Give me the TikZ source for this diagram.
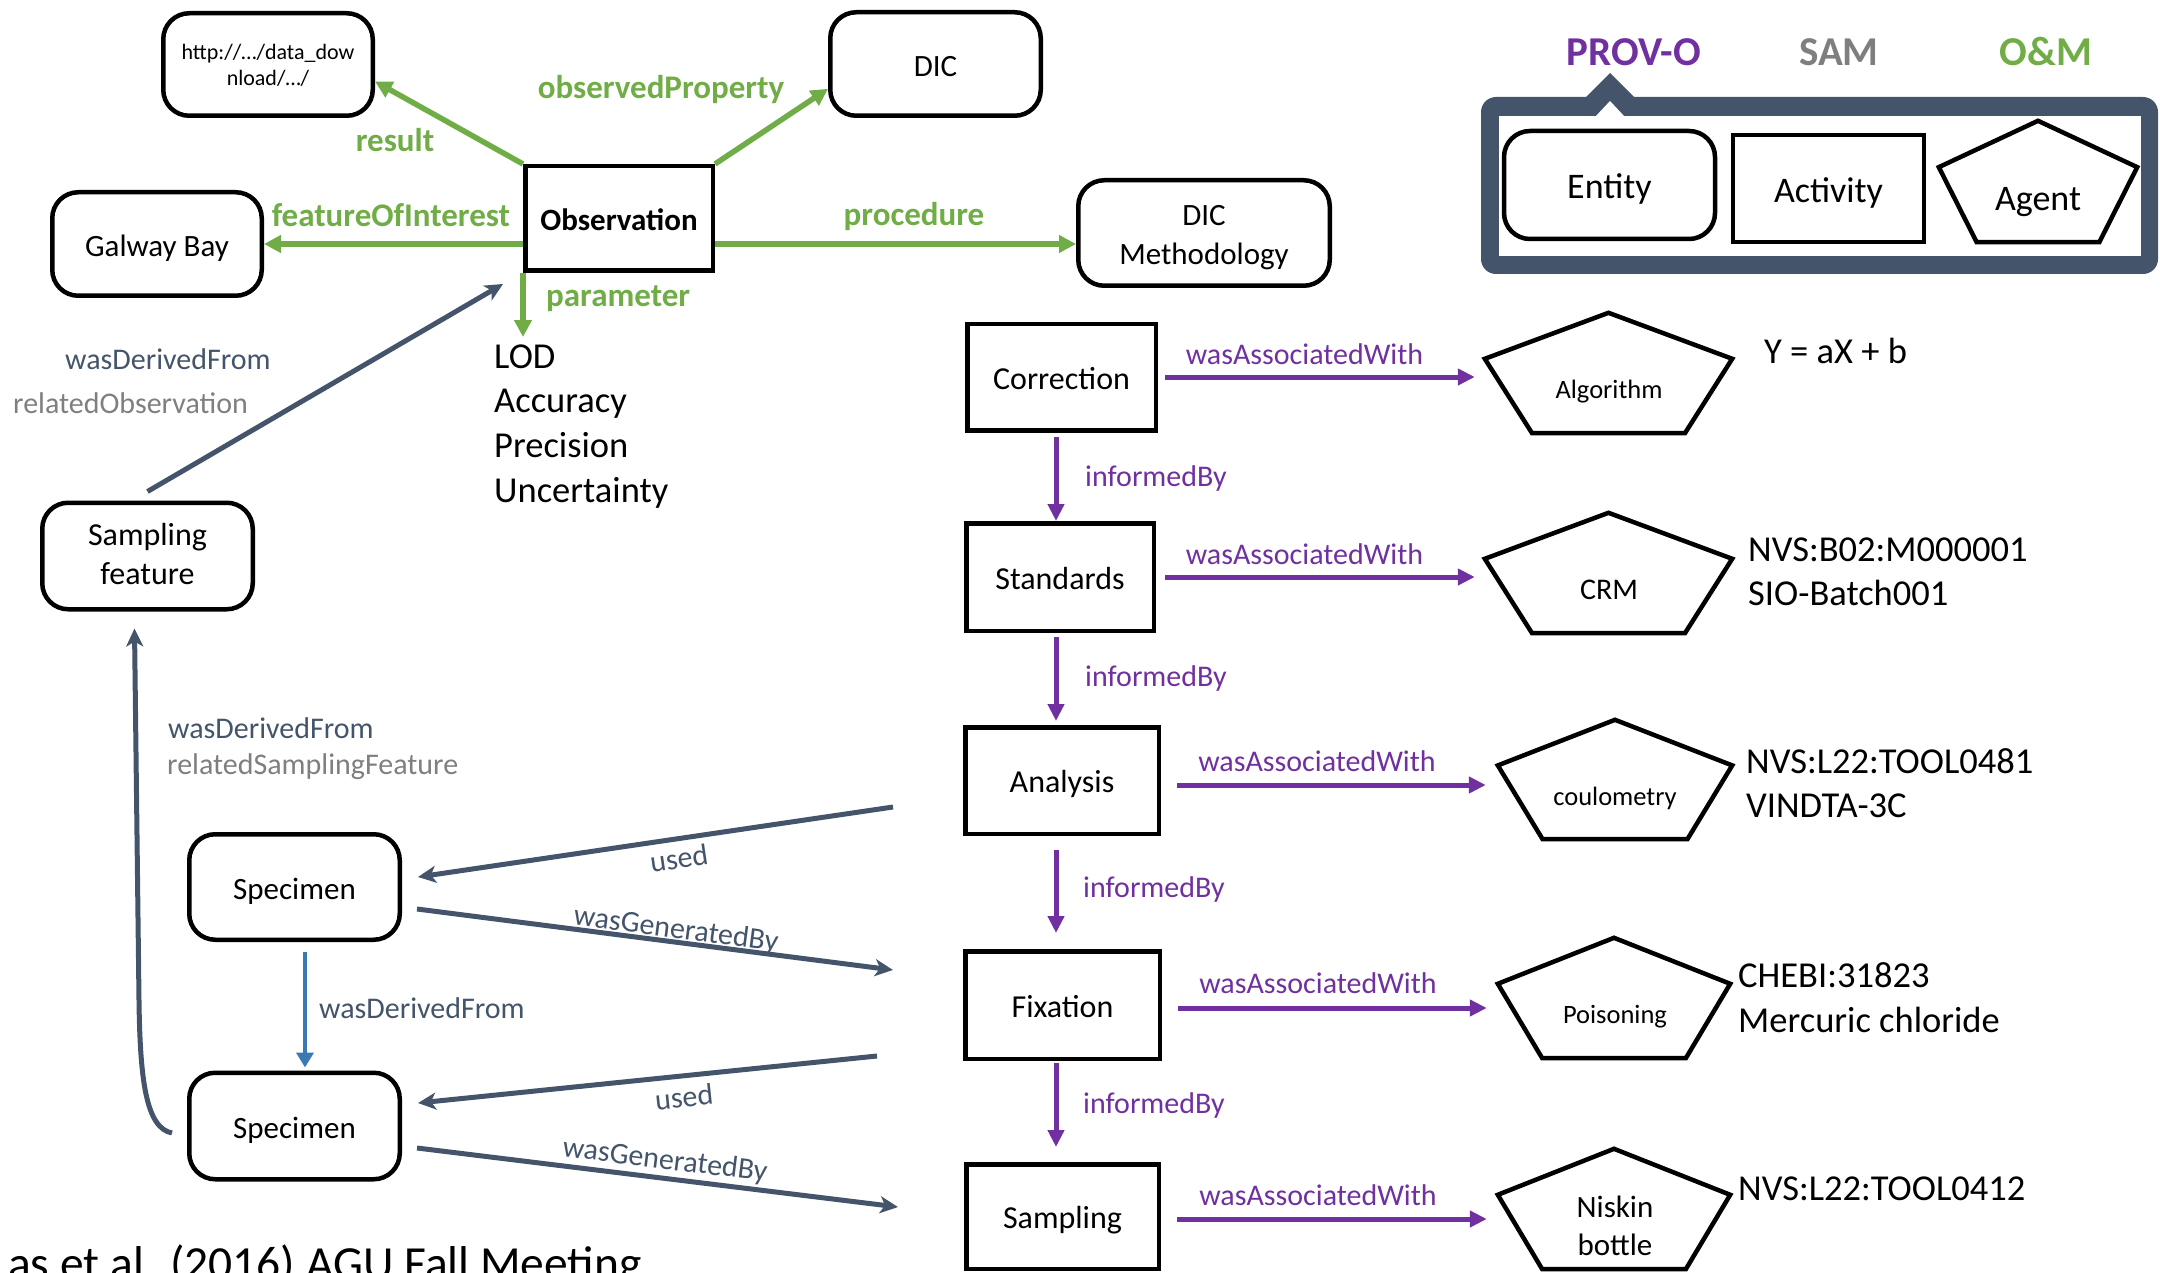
\documentclass[tikz,border=0pt]{standalone}
\usepackage{fontspec}
\setmainfont{Carlito}
\usetikzlibrary{arrows.meta,calc}
\definecolor{provpurple}{HTML}{7030A0}
\definecolor{omgreen}{HTML}{70AD47}
\definecolor{slate}{HTML}{44546A}
\definecolor{samgray}{HTML}{7F7F7F}
\definecolor{derivblue}{HTML}{3B79B2}
\newcommand\fsz[2]{\fontsize{#1}{#2}\selectfont}
\newcommand\lo[2][3pt]{\raisebox{-#1}[\height][\depth]{#2}}
\newcommand\twol[2]{\begin{tabular}{@{}c@{}}#1\\#2\end{tabular}}
\newcommand\pent[1]{\draw[pentline] (#1.north) -- ($(#1.north west)!0.382!(#1.south west)$) -- ($(#1.south)!0.618!(#1.south west)$) -- ($(#1.south)!0.618!(#1.south east)$) -- ($(#1.north east)!0.382!(#1.south east)$) -- cycle;}
\begin{document}
\begin{tikzpicture}[x=1pt,y=-1pt,
  ent/.style={draw, line width=4.5pt, rounded corners=26pt, inner sep=0pt, font=\fsz{31}{38}},
  act/.style={draw, line width=4.5pt, inner sep=0pt, font=\fsz{32}{38}},
  pbox/.style={inner sep=0pt},
  pentline/.style={draw, line width=4.5pt, line join=miter},
  ptext/.style={font=\fsz{26.5}{32}, anchor=base, inner sep=0pt},
  grn/.style={draw=omgreen, line width=5.5pt, -{Triangle[length=17pt,width=17pt]}},
  prp/.style={draw=provpurple, line width=5pt, -{Triangle[length=17pt,width=16pt]}},
  slt/.style={draw=slate, line width=5pt, -{Stealth[length=18pt,width=17pt,inset=5pt]}},
  blu/.style={draw=derivblue, line width=4.5pt, -{Triangle[length=15pt,width=17pt]}},
  glab/.style={text=omgreen, font=\bfseries\fsz{33}{40}, anchor=base, inner sep=0pt},
  plab/.style={text=provpurple, font=\fsz{30}{36}, anchor=base, inner sep=0pt},
  slab/.style={text=slate, font=\fsz{30}{36}, inner sep=0pt},
  graylab/.style={text=samgray, font=\fsz{30}{36}, inner sep=0pt, anchor=base west},
  txt/.style={font=\fsz{36.5}{45}, anchor=base west, inner sep=0pt},
  leg/.style={font=\bfseries\fsz{41}{48}, anchor=base, inner sep=0pt}
]
\useasboundingbox (0,0) rectangle (2160,1273);
\clip (0,0) rectangle (2160,1273);

% ---------- legend frame ----------
\fill[slate, rounded corners=15pt] (1481,97) rectangle (2158,274);
\fill[slate] (1585,98) -- (1610,73) -- (1635,98) -- cycle;
\fill[white] (1499,116) rectangle (2141,256);
\fill[white] (1595,117) -- (1610,101) -- (1625,117) -- cycle;
\node[leg, text=provpurple] (provo) at (1634,66) {PROV-O};
\node[leg, text=samgray] (sam) at (1839,66) {SAM};
\node[leg, text=omgreen] (om) at (2046,66) {O\&M};
\node[ent, minimum width=211pt, minimum height=108pt, font=\fsz{36}{42}] (lent) at (1609.5,185) {\lo[4pt]{Entity}};
\node[act, minimum width=191pt, minimum height=107pt, font=\fsz{36}{42}] (lact) at (1828.5,188.5) {\lo[4pt]{Activity}};
\node[pbox, minimum width=198pt, minimum height=121pt] (lagP) at (2038,181.5) {};
\pent{lagP}
\node[font=\fsz{36}{42}, anchor=base, inner sep=0pt] (lagT) at (2038,211) {Agent};

% ---------- O&M part ----------
\node[ent, minimum width=209.5pt, minimum height=102.5pt, font=\fsz{22}{26}] (http) at (268,64.5) {\lo{\twol{http://…/data\_dow}{nload/…/}}};
\node[ent, minimum width=210.5pt, minimum height=103.5pt] (dic) at (935.5,64) {\lo{DIC}};
\node[ent, minimum width=209.5pt, minimum height=103.5pt] (gal) at (157,244) {\lo[4pt]{Galway Bay}};
\node[act, font=\bfseries\fsz{31}{37}, minimum width=187.5pt, minimum height=104.5pt] (obs) at (619,218.5) {\lo[1.5pt]{Observation}};
\node[ent, minimum width=251.5pt, minimum height=105.5pt, font=\fsz{31}{39}] (dicm) at (1204,233) {\lo[4pt]{\twol{DIC}{Methodology}}};

\draw[grn] (obs.north west) -- (http.-9);
\draw[grn] (obs.north east) -- (dic.193);
\draw[grn] (obs.west |- gal.east) -- (gal.east);
\coordinate (procEnd) at ($(dicm.west)+(0,11)$);
\draw[grn] (obs.east |- procEnd) -- (procEnd);
\coordinate (parEnd) at (523,337);
\draw[grn] (obs.south west) -- (obs.south west |- parEnd);

\node[glab] (lres) at (395,152) {result};
\node[glab] (lobp) at (661,99) {observedProperty};
\node[glab] (lfoi) at (391,227) {featureOfInterest};
\node[glab] (lproc) at (914,226) {procedure};
\node[glab, anchor=base west] (lpar) at (546,306) {parameter};

\node[txt] (lod) at (494,368) {LOD};
\node[txt] (acc) at (494,412) {Accuracy};
\node[txt] (prec) at (494,457) {Precision};
\node[txt] (unc) at (494,502) {Uncertainty};

% ---------- SAM part ----------
\node[ent, minimum width=210.5pt, minimum height=106.5pt, font=\fsz{32}{39}] (sf) at (147.5,556) {\lo[1.5pt]{\twol{Sampling}{feature}}};
\node[ent, minimum width=210.5pt, minimum height=105.5pt] (spec1) at (294.5,887) {\lo[4pt]{Specimen}};
\node[ent, minimum width=210.5pt, minimum height=106.5pt] (spec2) at (294.5,1126) {\lo[4pt]{Specimen}};

\draw[slt] ($(sf.north)+(0,-9)$) -- ($(obs.south west)+(-20,11)$);
\node[slab, anchor=base west] (ldf1) at (65,369) {wasDerivedFrom};
\node[graylab] (lro) at (13,413) {relatedObservation};

\draw[slt] ($(spec2.west)+(-15,7)$) .. controls (146,1128) and (140,1080) .. (139,1000) -- ($(sf.south)+(-13,17)$);
\node[slab, anchor=base west] (ldf2) at (168,738) {wasDerivedFrom};
\node[graylab] (lrsf) at (167,774) {relatedSamplingFeature};

\draw[blu] ($(spec1.south)+(10.5,10)$) -- ($(spec2.north)+(10.5,-3)$);
\node[slab, anchor=base west] (ldf3) at (319,1018) {wasDerivedFrom};

\coordinate (u1) at (893,807);
\coordinate (g1) at (893,970);
\coordinate (u2) at (877,1056);
\coordinate (g2) at (898,1207);
\draw[slt] (u1) -- ($(spec1.east)+(16,-10)$);
\draw[slt] ($(spec1.east)+(15,22)$) -- (g1);
\draw[slt] (u2) -- ($(spec2.east)+(16,-23)$);
\draw[slt] ($(spec2.east)+(15,22)$) -- (g2);
\node[slab, rotate=8.4] (lu1) at (679,858) {used};
\node[slab, rotate=-7.4] (lg1) at (676,930) {wasGeneratedBy};
\node[slab, rotate=5.9] (lu2) at (684,1097) {used};
\node[slab, rotate=-7] (lg2) at (665,1161) {wasGeneratedBy};

% ---------- PROV-O part ----------
\node[act, minimum width=188.5pt, minimum height=106.5pt] (corr) at (1061.5,377) {\lo[1.5pt]{Correction}};
\node[act, minimum width=187.5pt, minimum height=107.5pt] (stand) at (1060,577) {\lo[1.5pt]{Standards}};
\node[act, minimum width=193.5pt, minimum height=106.5pt] (ana) at (1062,780.5) {\lo{Analysis}};
\node[act, minimum width=194.5pt, minimum height=107.5pt] (fix) at (1062.5,1005) {\lo[1.5pt]{Fixation}};
\node[act, minimum width=192.5pt, minimum height=104.5pt] (samp) at (1062.5,1216.5) {\lo[4pt]{Sampling}};

\node[pbox, minimum width=247pt, minimum height=120pt] (algP) at (1608.5,373) {};
\pent{algP}
\node[ptext] (algT) at (1609,398) {Algorithm};
\node[pbox, minimum width=247pt, minimum height=120pt] (crmP) at (1608.5,573) {};
\pent{crmP}
\node[ptext, font=\fsz{30}{36}] (crmT) at (1609,599) {CRM};
\node[pbox, minimum width=234pt, minimum height=119pt] (coulP) at (1615,779.5) {};
\pent{coulP}
\node[ptext] (coulT) at (1615,805) {coulometry};
\node[pbox, minimum width=232pt, minimum height=120pt] (poisP) at (1614,998) {};
\pent{poisP}
\node[ptext] (poisT) at (1615,1023) {Poisoning};
\node[pbox, minimum width=232pt, minimum height=120pt] (nisP) at (1614,1209) {};
\pent{nisP}
\node[font=\fsz{31}{38}, align=center, inner sep=0pt] (nisT) at (1615,1226) {Niskin\\bottle};

\draw[prp] ($(corr.east)+(7,0)$) -- ($(algP.west |- corr.east)+(-10,0)$);
\draw[prp] ($(stand.east)+(9,0)$) -- ($(crmP.west |- stand.east)+(-10,0)$);
\draw[prp] ($(ana.east)+(16,4.5)$) -- ($(coulP.west)+(-12,5.5)$);
\draw[prp] ($(fix.east)+(16,3)$) -- ($(poisP.west)+(-11,10)$);
\draw[prp] ($(samp.east)+(16,2.5)$) -- ($(nisP.west)+(-11,10)$);
\node[plab] (la1) at (1304.5,364) {wasAssociatedWith};
\node[plab] (la2) at (1304.5,564) {wasAssociatedWith};
\node[plab] (la3) at (1317,771) {wasAssociatedWith};
\node[plab] (la4) at (1318,993) {wasAssociatedWith};
\node[plab] (la5) at (1318,1205) {wasAssociatedWith};

\draw[prp] ($(corr.south)+(-5.5,4)$) -- ($(stand.north)+(-4,0)$);
\draw[prp] ($(stand.south)+(-4,4)$) -- ($(ana.north)+(-6,-4)$);
\draw[prp] ($(ana.south)+(-6,14)$) -- ($(fix.north)+(-6.5,-16)$);
\draw[prp] ($(fix.south)+(-6.5,2)$) -- ($(samp.north)+(-6.5,-15)$);
\node[plab, anchor=base west] (li1) at (1085,486) {informedBy};
\node[plab, anchor=base west] (li2) at (1085,686) {informedBy};
\node[plab, anchor=base west] (li3) at (1083,897) {informedBy};
\node[plab, anchor=base west] (li4) at (1083,1113) {informedBy};

\node[txt] (yab) at (1764,363) {Y = aX + b};
\node[txt] (nvs1) at (1748,561) {NVS:B02:M000001};
\node[txt] (sio) at (1748,605) {SIO-Batch001};
\node[txt] (nvs2) at (1746,773) {NVS:L22:TOOL0481};
\node[txt] (vin) at (1746,817) {VINDTA-3C};
\node[txt] (chebi) at (1738,987) {CHEBI:31823};
\node[txt] (merc) at (1738,1032) {Mercuric chloride};
\node[txt] (nvs3) at (1738,1200) {NVS:L22:TOOL0412};

% ---------- footer ----------
\node[font=\fsz{47.5}{56}, anchor=base west, inner sep=0pt] (foot) at (8,1279) {as et al. (2016) AGU Fall Meeting};
\end{tikzpicture}
\end{document}
